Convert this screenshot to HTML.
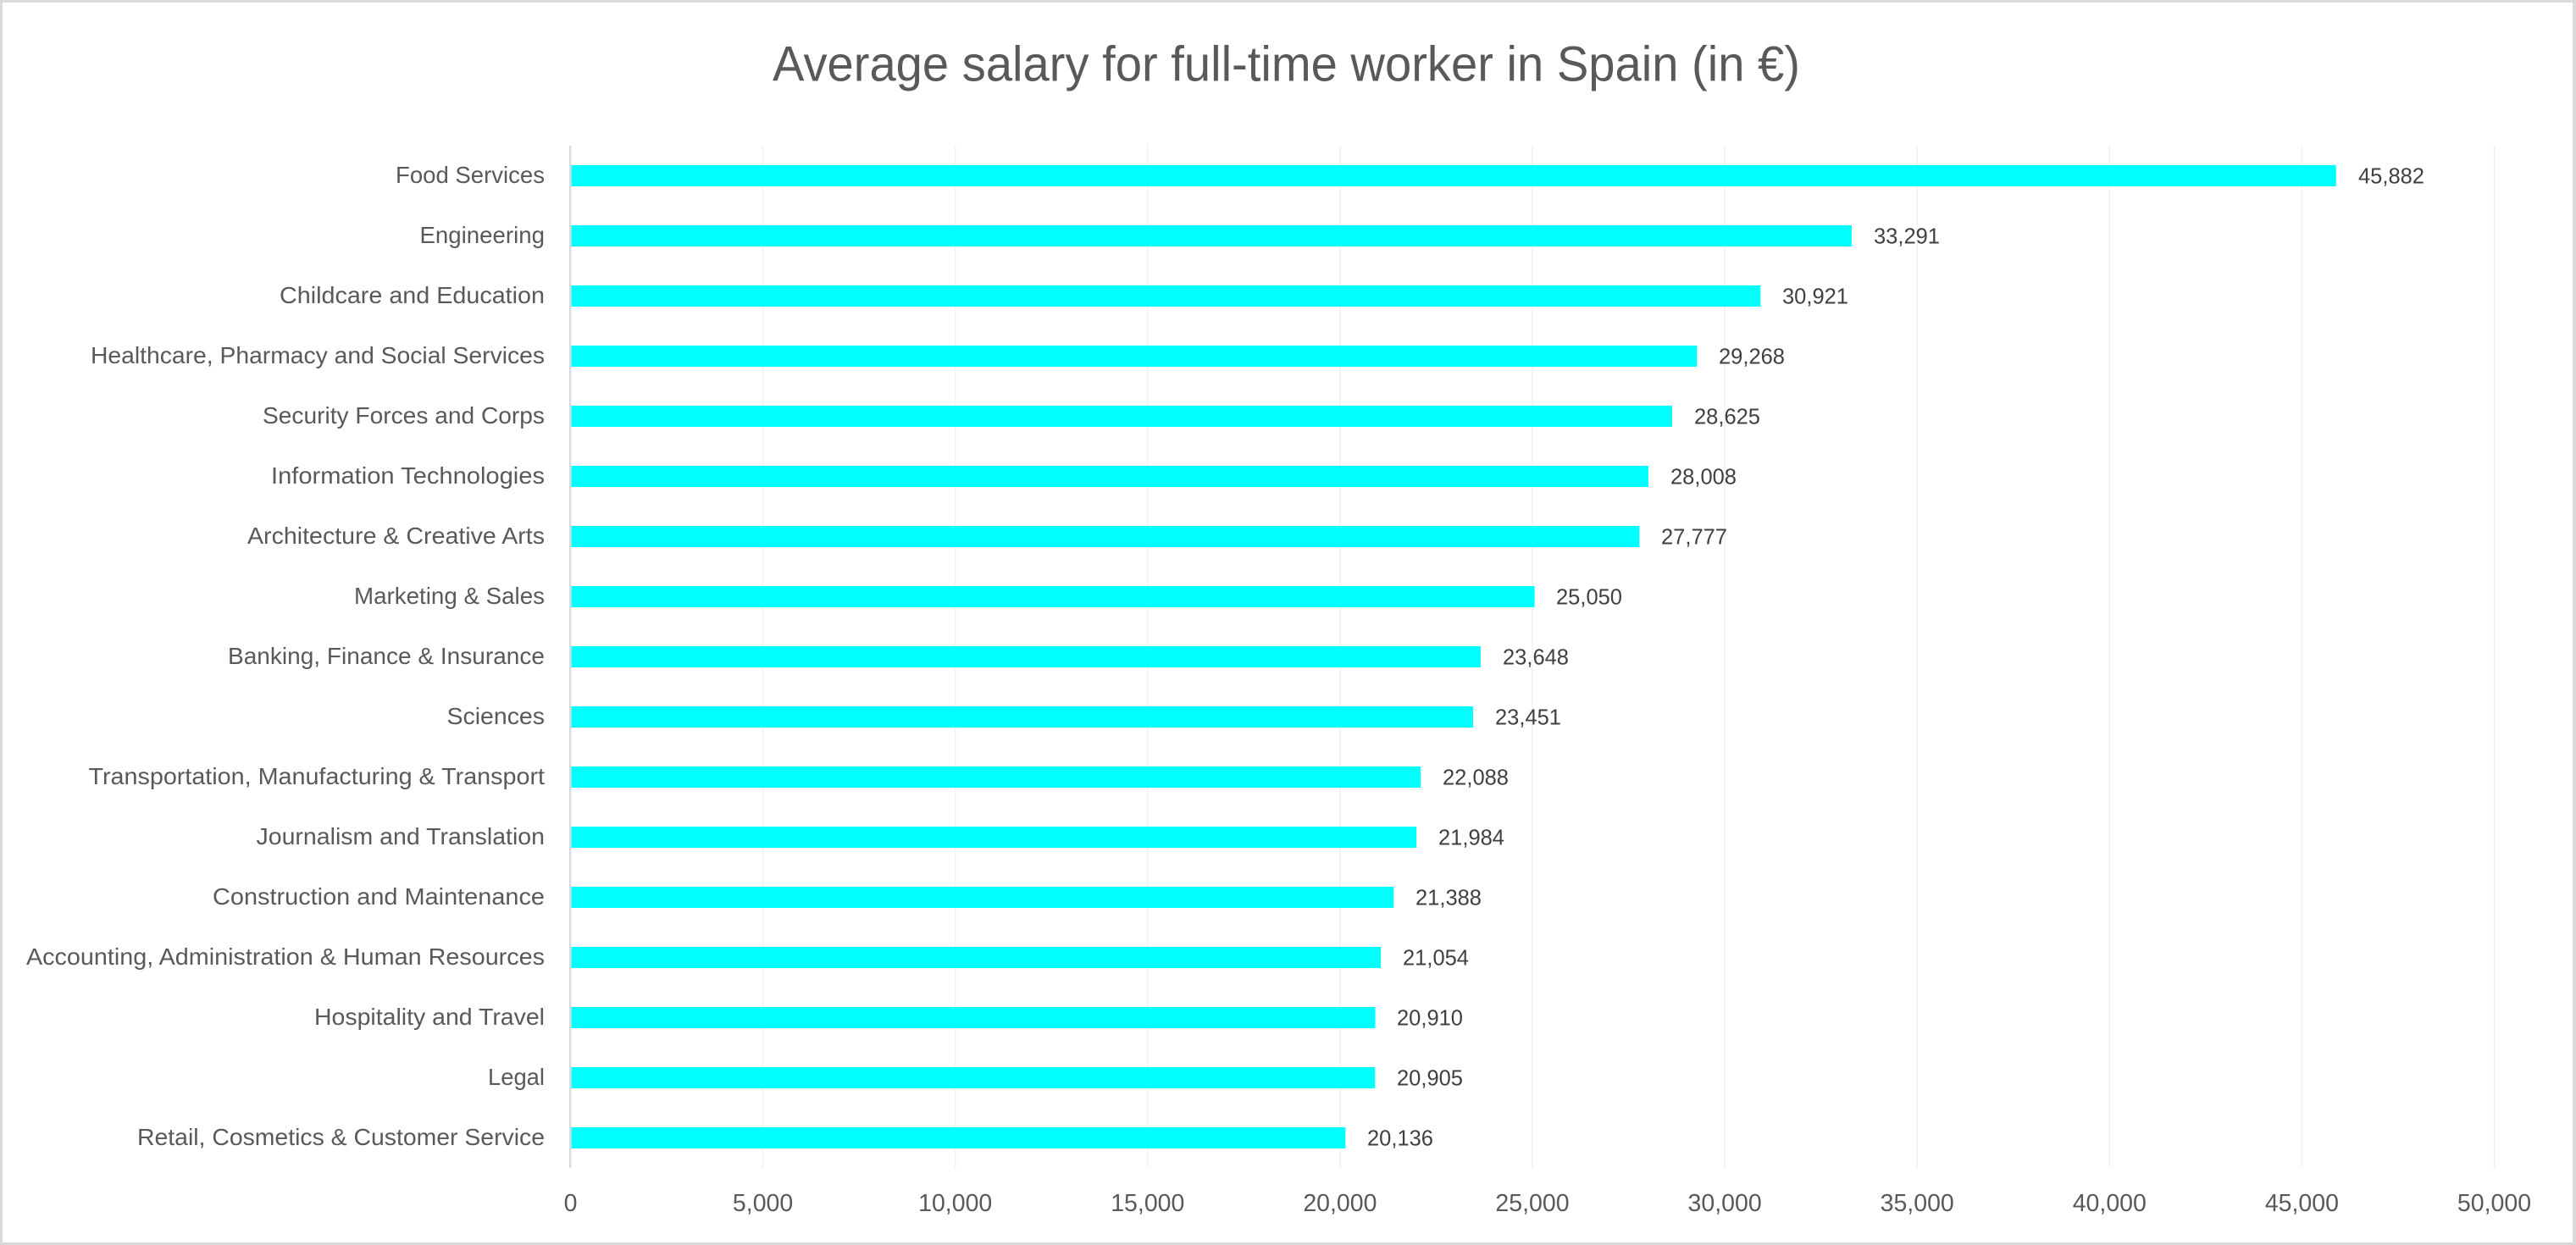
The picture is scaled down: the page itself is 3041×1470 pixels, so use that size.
<!DOCTYPE html>
<html>
<head>
<meta charset="utf-8">
<style>
html,body{margin:0;padding:0;background:#fff;}
svg{display:block;}
text{font-family:"Liberation Sans",Arial,sans-serif;}
</style>
</head>
<body>
<svg width="3041" height="1470" viewBox="0 0 3041 1470" xmlns="http://www.w3.org/2000/svg">
<rect x="0" y="0" width="3041" height="1470" fill="#ffffff"/>
<!-- outer border -->
<rect x="0" y="0" width="3041" height="3" fill="#d9d9d9"/>
<rect x="0" y="1467" width="3041" height="3" fill="#d9d9d9"/>
<rect x="0" y="0" width="3" height="1470" fill="#d9d9d9"/>
<rect x="3037" y="0" width="4" height="1470" fill="#d9d9d9"/>

<!-- title -->
<text x="912" y="95.5" font-size="58" fill="#595959" textLength="1213" lengthAdjust="spacingAndGlyphs">Average salary for full-time worker in Spain (in €)</text>

<!-- gridlines -->
<g stroke="#efefef" stroke-width="1.3">
<line x1="900.6" y1="172" x2="900.6" y2="1379"/>
<line x1="1127.7" y1="172" x2="1127.7" y2="1379"/>
<line x1="1354.8" y1="172" x2="1354.8" y2="1379"/>
<line x1="1581.9" y1="172" x2="1581.9" y2="1379"/>
<line x1="1809.0" y1="172" x2="1809.0" y2="1379"/>
<line x1="2036.1" y1="172" x2="2036.1" y2="1379"/>
<line x1="2263.2" y1="172" x2="2263.2" y2="1379"/>
<line x1="2490.3" y1="172" x2="2490.3" y2="1379"/>
<line x1="2717.4" y1="172" x2="2717.4" y2="1379"/>
<line x1="2944.5" y1="172" x2="2944.5" y2="1379"/>
</g>

<!-- bars -->
<g fill="#00ffff">
<rect x="674.5" y="195" width="2083.2" height="25"/>
<rect x="674.5" y="266" width="1511.4" height="25"/>
<rect x="674.5" y="337" width="1403.8" height="25"/>
<rect x="674.5" y="408" width="1328.7" height="25"/>
<rect x="674.5" y="479" width="1299.5" height="25"/>
<rect x="674.5" y="550" width="1271.4" height="25"/>
<rect x="674.5" y="621" width="1260.9" height="25"/>
<rect x="674.5" y="692" width="1137.1" height="25"/>
<rect x="674.5" y="763" width="1073.4" height="25"/>
<rect x="674.5" y="834" width="1064.5" height="25"/>
<rect x="674.5" y="905" width="1002.6" height="25"/>
<rect x="674.5" y="976" width="997.8" height="25"/>
<rect x="674.5" y="1047" width="970.7" height="25"/>
<rect x="674.5" y="1118" width="955.6" height="25"/>
<rect x="674.5" y="1189" width="949.0" height="25"/>
<rect x="674.5" y="1260" width="948.8" height="25"/>
<rect x="674.5" y="1331" width="913.9" height="25"/>
</g>

<!-- axis line -->
<rect x="672" y="172" width="2.3" height="1207" fill="#d9d9d9"/>

<!-- category labels -->
<g font-size="28" fill="#595959" text-anchor="end" lengthAdjust="spacingAndGlyphs">
<text x="643" y="216" textLength="176" lengthAdjust="spacingAndGlyphs">Food Services</text>
<text x="643" y="287" textLength="147.5" lengthAdjust="spacingAndGlyphs">Engineering</text>
<text x="643" y="358" textLength="313" lengthAdjust="spacingAndGlyphs">Childcare and Education</text>
<text x="643" y="429" textLength="536" lengthAdjust="spacingAndGlyphs">Healthcare, Pharmacy and Social Services</text>
<text x="643" y="500" textLength="333" lengthAdjust="spacingAndGlyphs">Security Forces and Corps</text>
<text x="643" y="571" textLength="323" lengthAdjust="spacingAndGlyphs">Information Technologies</text>
<text x="643" y="642" textLength="351" lengthAdjust="spacingAndGlyphs">Architecture &amp; Creative Arts</text>
<text x="643" y="713" textLength="225" lengthAdjust="spacingAndGlyphs">Marketing &amp; Sales</text>
<text x="643" y="784" textLength="374" lengthAdjust="spacingAndGlyphs">Banking, Finance &amp; Insurance</text>
<text x="643" y="855" textLength="115.5" lengthAdjust="spacingAndGlyphs">Sciences</text>
<text x="643" y="926" textLength="538.5" lengthAdjust="spacingAndGlyphs">Transportation, Manufacturing &amp; Transport</text>
<text x="643" y="997" textLength="340.5" lengthAdjust="spacingAndGlyphs">Journalism and Translation</text>
<text x="643" y="1068" textLength="392" lengthAdjust="spacingAndGlyphs">Construction and Maintenance</text>
<text x="643" y="1139" textLength="612" lengthAdjust="spacingAndGlyphs">Accounting, Administration &amp; Human Resources</text>
<text x="643" y="1210" textLength="272" lengthAdjust="spacingAndGlyphs">Hospitality and Travel</text>
<text x="643" y="1281" textLength="67" lengthAdjust="spacingAndGlyphs">Legal</text>
<text x="643" y="1352" textLength="481" lengthAdjust="spacingAndGlyphs">Retail, Cosmetics &amp; Customer Service</text>
</g>

<!-- data labels -->
<g font-size="25.5" fill="#404040">
<text x="2784" y="216.7">45,882</text>
<text x="2212" y="287.7">33,291</text>
<text x="2104" y="358.7">30,921</text>
<text x="2029" y="429.7">29,268</text>
<text x="2000" y="500.7">28,625</text>
<text x="1972" y="571.7">28,008</text>
<text x="1961" y="642.7">27,777</text>
<text x="1837" y="713.7">25,050</text>
<text x="1774" y="784.7">23,648</text>
<text x="1765" y="855.7">23,451</text>
<text x="1703" y="926.7">22,088</text>
<text x="1698" y="997.7">21,984</text>
<text x="1671" y="1068.7">21,388</text>
<text x="1656" y="1139.7">21,054</text>
<text x="1649" y="1210.7">20,910</text>
<text x="1649" y="1281.7">20,905</text>
<text x="1614" y="1352.7">20,136</text>
</g>

<!-- x tick labels -->
<g font-size="28.5" fill="#595959" text-anchor="middle">
<text x="673.5" y="1430">0</text>
<text x="900.6" y="1430">5,000</text>
<text x="1127.7" y="1430">10,000</text>
<text x="1354.8" y="1430">15,000</text>
<text x="1581.9" y="1430">20,000</text>
<text x="1809.0" y="1430">25,000</text>
<text x="2036.1" y="1430">30,000</text>
<text x="2263.2" y="1430">35,000</text>
<text x="2490.3" y="1430">40,000</text>
<text x="2717.4" y="1430">45,000</text>
<text x="2944.5" y="1430">50,000</text>
</g>
</svg>
</body>
</html>
